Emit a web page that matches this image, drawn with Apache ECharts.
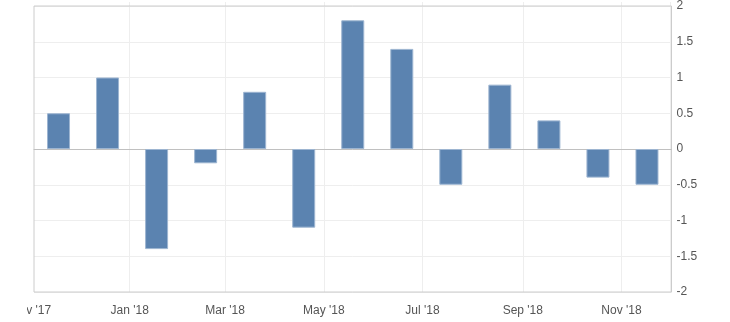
<!DOCTYPE html>
<html>
<head>
<meta charset="utf-8">
<script src="https://cdn.jsdelivr.net/npm/echarts@6/dist/echarts.min.js"></script>
<style>
html,body{margin:0;padding:0;background:#fff;}
#chart{width:730px;height:322px;}
</style>
</head>
<body>
<div id="chart"></div>
<script>
// Data
var categories = ["Nov '17","Dec '17","Jan '18","Feb '18","Mar '18","Apr '18","May '18","Jun '18","Jul '18","Aug '18","Sep '18","Oct '18","Nov '18"];
var values = [0.5, 1.0, -1.4, -0.2, 0.8, -1.1, 1.8, 1.4, -0.5, 0.9, 0.4, -0.4, -0.5];
var monthNames = ["Jan","Feb","Mar","Apr","May","Jun","Jul","Aug","Sep","Oct","Nov","Dec"];
var yTicks = [-2, -1.5, -1, -0.5, 0, 0.5, 1, 1.5, 2];
var timeStart = new Date(2017, 10, 1).getTime();
var timeEnd = new Date(2018, 11, 1).getTime();

var chart = echarts.init(document.getElementById('chart'), null, {renderer: 'canvas'});
var FONT = 'Liberation Sans, Arial, sans-serif';
var option = {
  animation: false,
  backgroundColor: '#fff',
  grid: [
    {left: 34, right: 58.5, top: 2, bottom: 30, show: true, borderColor: '#cccccc', borderWidth: 1, backgroundColor: 'transparent', z: 3},
    {left: 31, right: 60, top: 2, bottom: 30, show: false}
  ],
  xAxis: [
    {
      type: 'category', gridIndex: 0, data: categories, boundaryGap: true,
      axisLine: {show: true, onZero: true, lineStyle: {color: '#c0c0c0', width: 1}},
      axisTick: {show: false}, axisLabel: {show: false}, splitLine: {show: false}, z: 4
    },
    {
      type: 'time', gridIndex: 1, min: timeStart, max: timeEnd,
      minInterval: 75 * 86400000, maxInterval: 75 * 86400000,
      axisLine: {show: false}, axisTick: {show: false},
      splitLine: {show: true, lineStyle: {color: '#eeeeee', width: 1}},
      axisLabel: {
        show: true, color: '#555', fontSize: 12, fontFamily: FONT, margin: 13,
        showMinLabel: true, showMaxLabel: false, hideOverlap: false,
        formatter: function (val) {
          var d = new Date(val);
          return monthNames[d.getMonth()] + " '" + String(d.getFullYear()).slice(2);
        }
      }
    }
  ],
  yAxis: [
    {
      type: 'value', gridIndex: 0, position: 'right', min: yTicks[0], max: yTicks[yTicks.length - 1], interval: 0.5,
      axisLine: {show: false}, axisTick: {show: false},
      splitLine: {show: true, lineStyle: {color: '#eeeeee', width: 1}},
      axisLabel: {color: '#555', fontSize: 12, fontFamily: FONT, margin: 5}
    },
    {type: 'value', gridIndex: 1, min: -2, max: 2, show: false}
  ],
  series: [{
    type: 'bar', xAxisIndex: 0, yAxisIndex: 0, data: values, barWidth: 23,
    itemStyle: {color: '#5b83b0', borderColor: '#9db5d1', borderWidth: 1},
    z: 5
  }],
  graphic: [
    {type: 'rect', left: 0, top: 0, shape: {x: 0, y: 0, width: 32.5, height: 293}, style: {fill: '#fff'}, z: 100},
    {type: 'rect', left: 0, top: 293, shape: {x: 0, y: 0, width: 27, height: 29}, style: {fill: '#fff'}, z: 100}
  ]
};
chart.setOption(option);
</script>
</body>
</html>
